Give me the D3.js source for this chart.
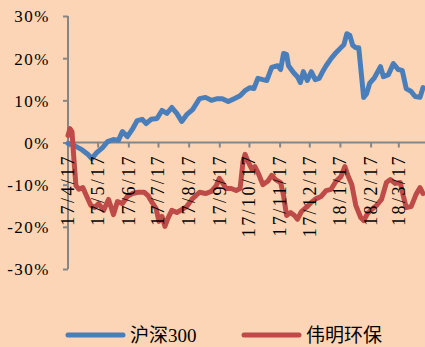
<!DOCTYPE html>
<html><head><meta charset="utf-8">
<script src="https://cdn.jsdelivr.net/npm/d3@7"></script>
<style>
html,body{margin:0;padding:0;background:#FBD5B5;}
svg{display:block;}
</style></head>
<body><svg id="c" width="425" height="347"></svg>
<script>
// ---- data ----
const seriesNames = ["沪深300", "伟明环保"];
const hs300Dates = ["2017-04-17","2017-04-24","2017-05-01","2017-05-07","2017-05-11","2017-05-16","2017-05-22","2017-05-27","2017-06-02","2017-06-07","2017-06-11","2017-06-16","2017-06-21","2017-06-26","2017-07-01","2017-07-05","2017-07-10","2017-07-16","2017-07-21","2017-07-26","2017-07-31","2017-08-05","2017-08-10","2017-08-15","2017-08-21","2017-08-28","2017-09-03","2017-09-09","2017-09-15","2017-09-20","2017-09-26","2017-10-02","2017-10-08","2017-10-13","2017-10-18","2017-10-22","2017-10-26","2017-10-31","2017-11-04","2017-11-09","2017-11-15","2017-11-18","2017-11-21","2017-11-24","2017-11-26","2017-12-01","2017-12-05","2017-12-08","2017-12-11","2017-12-15","2017-12-19","2017-12-23","2017-12-27","2017-12-30","2018-01-03","2018-01-08","2018-01-13","2018-01-18","2018-01-21","2018-01-24","2018-01-27","2018-01-30","2018-02-02","2018-02-05","2018-02-10","2018-02-13","2018-02-16","2018-02-21","2018-02-27","2018-03-02","2018-03-07","2018-03-12","2018-03-17","2018-03-21","2018-03-25","2018-03-30","2018-04-03","2018-04-08","2018-04-11"];
const hs300Values = [-0.2,-0.8,-1.7,-2.8,-3.8,-2.4,-1.2,0.2,0.7,0.5,2.6,1.4,3.1,5.2,5.5,4.5,5.5,5.7,7.6,6.9,8.3,6.9,5.0,6.6,7.8,10.4,10.7,10.0,10.4,10.4,9.7,10.4,11.1,12.3,13.0,12.8,15.2,14.9,14.7,17.8,18.2,17.3,21.1,20.9,18.2,16.6,15.6,14.2,16.8,14.7,16.8,14.9,15.2,16.6,18.2,19.9,21.3,22.5,23.2,25.8,25.4,23.0,22.5,22.5,10.7,11.6,14.0,15.4,18.0,15.6,16.1,18.7,17.3,17.1,12.8,12.1,10.9,10.7,13.0];
const weimingDates = ["2017-04-17","2017-04-19","2017-04-21","2017-04-23","2017-04-25","2017-04-28","2017-05-02","2017-05-06","2017-05-10","2017-05-14","2017-05-18","2017-05-23","2017-05-28","2017-06-02","2017-06-06","2017-06-11","2017-06-16","2017-06-21","2017-06-27","2017-07-03","2017-07-07","2017-07-11","2017-07-15","2017-07-18","2017-07-21","2017-07-24","2017-07-27","2017-07-31","2017-08-05","2017-08-10","2017-08-15","2017-08-21","2017-08-28","2017-09-03","2017-09-09","2017-09-14","2017-09-17","2017-09-20","2017-09-24","2017-09-29","2017-10-04","2017-10-08","2017-10-11","2017-10-13","2017-10-16","2017-10-20","2017-10-23","2017-10-27","2017-10-31","2017-11-05","2017-11-09","2017-11-13","2017-11-18","2017-11-21","2017-11-24","2017-11-28","2017-12-02","2017-12-05","2017-12-09","2017-12-14","2017-12-19","2017-12-24","2017-12-29","2018-01-03","2018-01-08","2018-01-13","2018-01-18","2018-01-22","2018-01-25","2018-01-29","2018-02-02","2018-02-07","2018-02-10","2018-02-14","2018-02-18","2018-02-23","2018-02-28","2018-03-05","2018-03-09","2018-03-14","2018-03-19","2018-03-22","2018-03-25","2018-03-30","2018-04-04","2018-04-08","2018-04-11"];
const weimingValues = [1.7,3.3,2.6,-4.0,-10.2,-11.1,-10.7,-12.8,-14.9,-15.4,-14.5,-16.1,-13.5,-17.1,-14.0,-14.5,-12.8,-12.1,-11.8,-11.8,-12.6,-14.2,-15.6,-18.7,-17.5,-19.9,-18.0,-16.1,-16.6,-15.9,-15.2,-13.3,-11.8,-12.1,-11.6,-10.2,-8.5,-9.5,-10.9,-10.9,-11.4,-10.9,-4.5,-2.8,-4.5,-6.4,-5.7,-7.6,-10.0,-9.2,-7.8,-8.8,-9.5,-12.6,-17.3,-16.6,-17.3,-18.2,-16.4,-15.4,-14.2,-13.3,-12.8,-11.4,-11.1,-9.2,-8.1,-5.7,-7.8,-10.0,-14.9,-17.8,-18.5,-16.8,-15.9,-14.9,-13.5,-9.5,-8.8,-9.7,-9.5,-12.6,-15.4,-15.2,-12.3,-10.7,-12.1];
const xTickLabels = ["17/4/17","17/5/17","17/6/17","17/7/17","17/8/17","17/9/17","17/10/17","17/11/17","17/12/17","18/1/17","18/2/17","18/3/17"];
const yTicks = [-30,-20,-10,0,10,20,30];
const xDomain = ["2017-04-17","2018-04-12"];

// ---- drawing ----
const svg = d3.select("#c");
const parseISO = d3.timeParse("%Y-%m-%d");
const parseTick = d3.timeParse("%y/%m/%d");
const x = d3.scaleTime().domain(xDomain.map(parseISO)).range([68, 424]);
const y = d3.scaleLinear().domain([-30, 30]).range([269, 16]);
const axisColor = "#868686";
const serif = "'Liberation Serif','Times New Roman','Noto Sans CJK SC',serif";

// y axis
const yAxis = svg.append("g").attr("transform","translate(68,0)")
  .call(d3.axisLeft(y).tickValues(yTicks).tickSize(5).tickPadding(13).tickFormat(d => d + "%"));
yAxis.select(".domain").attr("stroke", axisColor).attr("stroke-width", 2).attr("d", `M0,${y(30)}V${y(-30)}`);
yAxis.selectAll(".tick line").attr("stroke", axisColor).attr("stroke-width", 2);
yAxis.selectAll(".tick text").attr("fill","#000").style("font-family", serif)
  .style("font-size","17px").style("letter-spacing","1.5px").attr("dy","0.35em");

// x axis at 0
const tickDates = xTickLabels.map(parseTick);
const xAxis = svg.append("g").attr("transform", `translate(0,${y(0)})`)
  .call(d3.axisBottom(x).tickValues(tickDates).tickSize(5).tickFormat(""));
xAxis.select(".domain").attr("stroke", axisColor).attr("stroke-width", 2).attr("d", `M${x.range()[0]},0H425`);
xAxis.selectAll(".tick line").attr("stroke", axisColor).attr("stroke-width", 2);

// line generators
const line = d3.line().x(d => x(d[0])).y(d => y(d[1])).curve(d3.curveLinear);
const hsData = hs300Dates.map((d,i) => [parseISO(d), hs300Values[i]]);
const wmData = weimingDates.map((d,i) => [parseISO(d), weimingValues[i]]);
const colors = ["#4A7EBB", "#BE4B48"];

svg.append("path").datum(hsData).attr("d", line).attr("fill","none")
  .attr("stroke", colors[0]).attr("stroke-width", 5).attr("stroke-linejoin","round").attr("stroke-linecap","round");
svg.append("path").datum(wmData).attr("d", line).attr("fill","none")
  .attr("stroke", colors[1]).attr("stroke-width", 5).attr("stroke-linejoin","round").attr("stroke-linecap","round");

// x tick labels (rotated) drawn above lines
svg.append("g").selectAll("text").data(xTickLabels).join("text")
  .attr("transform", (d) => `translate(${x(parseTick(d))},154) rotate(-90)`)
  .attr("text-anchor","end").attr("dy","0.35em")
  .style("font-family", serif).style("font-size","18px").style("letter-spacing","2.4px")
  .attr("fill","#000").text(d => d);

// legend
const legend = [{name: seriesNames[0], x0: 68}, {name: seriesNames[1], x0: 244}];
legend.forEach((l, i) => {
  svg.append("line").attr("x1", l.x0).attr("x2", l.x0 + 55).attr("y1", 335).attr("y2", 335)
    .attr("stroke", colors[i]).attr("stroke-width", 5).attr("stroke-linecap","round");
  svg.append("text").attr("x", l.x0 + 62).attr("y", 342)
    .style("font-family", serif).style("font-size","19px").attr("fill","#000").text(l.name);
});
</script></body></html>
